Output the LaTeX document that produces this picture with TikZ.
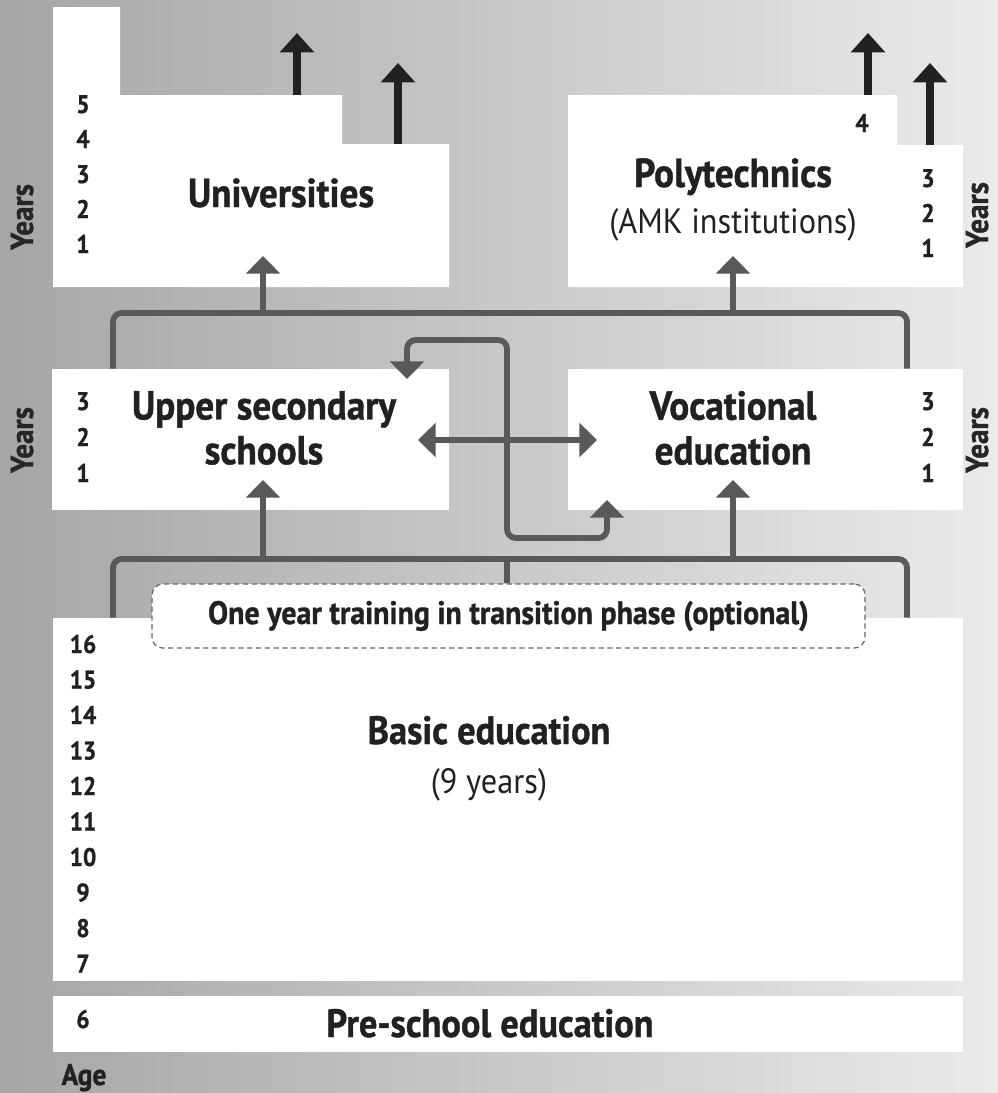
\documentclass[tikz,border=0pt]{standalone}
\usepackage{fontspec}
\setmainfont{PT Sans}[FakeStretch=0.92, BoldFeatures={FakeBold=1}]
\usetikzlibrary{arrows.meta, positioning}

\begin{document}
\begin{tikzpicture}[
    x=0.02cm, y=-0.02cm,
    box/.style={fill=white, inner sep=0pt},
    heading/.style={font=\bfseries\fontsize{23}{25.5}\selectfont, text=black!87, align=center, inner sep=0pt},
    subheading/.style={font=\fontsize{20}{24}\selectfont, text=black!87, inner sep=0pt},
    num/.style={font=\bfseries\fontsize{14.5}{16}\selectfont, text=black!87, inner sep=0pt, anchor=base},
    yearslabel/.style={font=\bfseries\fontsize{18}{20}\selectfont, text=black!85, inner sep=0pt, rotate=90, anchor=base},
    connector/.style={draw=black!65, line width=3.3pt},
    uptip/.style={-{Triangle[width=19pt, length=10pt]}},
    outarrow/.style={draw=black!87, line width=4pt, -{Triangle[width=19pt, length=11pt]}},
    optbox/.style={draw=black!60, dash pattern=on 3pt off 2pt, line width=0.7pt, fill=white,
        rounded corners=6pt, minimum width=14.26cm, minimum height=1.28cm,
        font=\bfseries\fontsize{18.5}{20}\selectfont, text=black!87}
]

% background
\useasboundingbox (0,0) rectangle (998,1093);
\shade[left color=black!35, middle color=black!18, right color=black!8] (0,0) rectangle (998,1093);

% --- Higher education ---
\fill[white] (53,7) -| (120,95) -| (342,144) -| (449,287) -| (53,7) -- cycle;
\fill[white] (568,95) -| (897,145) -| (963,287) -| (568,95) -- cycle;

\node[heading, anchor=base] (unitxt) at (281,207) {Universities};
\node[heading, anchor=base] (polytxt) at (733,187) {Polytechnics};
\node[subheading, anchor=base] (amk) at (733,233) {(AMK institutions)};

\foreach \n [count=\i] in {5,4,3,2,1}
    \node[num] (uni\n) at (83, 113+35*\i-35) {\n};
\node[num] (poly4) at (862,132) {4};
\foreach \n [count=\i] in {3,2,1}
    \node[num] (poly\n) at (928, 187+35*\i-35) {\n};

\node[yearslabel] (yuni) at (33,217) {Years};
\node[yearslabel] (ypoly) at (988,215) {Years};

% onward arrows
\coordinate (uniA) at (297,95);  \coordinate (uniA tip) at (297,33);
\coordinate (uniB) at (398,144); \coordinate (uniB tip) at (398,63);
\coordinate (polyA) at (868,95); \coordinate (polyA tip) at (868,33);
\coordinate (polyB) at (930,145); \coordinate (polyB tip) at (930,63);
\draw[outarrow] (uniA) -- (uniA tip);
\draw[outarrow] (uniB) -- (uniB tip);
\draw[outarrow] (polyA) -- (polyA tip);
\draw[outarrow] (polyB) -- (polyB tip);

% --- Upper secondary level ---
\node[box, minimum width=7.94cm, minimum height=2.82cm] (upper) at (250.5,439.5) {};
\node[box, minimum width=7.90cm, minimum height=2.82cm] (voc) at (765.5,439.5) {};

\node[heading] (uppertxt) at (264,428) {Upper secondary\\schools};
\node[heading] (voctxt) at (733,428) {Vocational\\education};

\foreach \n [count=\i] in {3,2,1} {
    \node[num] (upper\n) at (83, 410+36*\i-36) {\n};
    \node[num] (voc\n) at (928, 410+36*\i-36) {\n};
}
\node[yearslabel] (yupper) at (33,440) {Years};
\node[yearslabel] (yvoc) at (988,440) {Years};

% bracket up to higher education
\coordinate (topjoin uni) at (263,313);
\coordinate (topjoin poly) at (733,313);
\coordinate (uni tip) at (263,256);
\coordinate (poly tip) at (733,256);
\draw[connector, rounded corners=5pt] (upper.north -| 113,0) |- (topjoin poly) -| (voc.north -| 907,0);
\draw[connector, uptip] (topjoin uni) -- (uni tip);
\draw[connector, uptip] (topjoin poly) -- (poly tip);

% moving between the two tracks
\coordinate (upper in) at (407,379);
\coordinate (voc in) at (607,500);
\draw[connector, {Triangle[width=19pt, length=10pt]}-{Triangle[width=19pt, length=10pt]}]
    (418,440) coordinate (upper side) -- (597,440) coordinate (voc side);
\draw[connector, rounded corners=5pt, {Triangle[width=19pt, length=10pt]}-{Triangle[width=19pt, length=10pt]}]
    (upper in) |- (507,340) |- (607,538) -- (voc in);

% --- Basic education ---
\node[box, minimum width=18.2cm, minimum height=7.26cm] (basic) at (508,799.5) {};
\node[box, minimum width=18.2cm, minimum height=1.12cm] (pre) at (508,1024) {};

% bracket up to upper secondary level
\coordinate (lowjoin upper) at (263,559);
\coordinate (lowjoin voc) at (733,559);
\coordinate (lowjoin opt) at (507,559);
\draw[connector, rounded corners=5pt] (basic.north -| 113,0) |- (lowjoin voc) -| (basic.north -| 907,0);
\draw[connector, uptip] (lowjoin upper) -- (263,480) coordinate (upper tip);
\draw[connector, uptip] (lowjoin voc) -- (733,480) coordinate (voc tip);

\node[optbox] (opt) at (508.5,616) {One year training in transition phase (optional)};
\draw[connector] (lowjoin opt) -- (opt.north -| lowjoin opt);

\node[heading, anchor=base, font=\bfseries\fontsize{22.5}{26}\selectfont] (basictxt) at (489,744) {Basic education};
\node[subheading, anchor=base] (nine) at (489,793) {(9 years)};
\node[heading, anchor=base, font=\bfseries\fontsize{22.5}{26}\selectfont] (pretxt) at (490,1037) {Pre-school education};

\foreach \a in {16,15,...,7}
    \node[num] (age\a) at (83, 653+35.5*16-35.5*\a) {\a};
\node[num] (age6) at (83,1028) {6};
\node[num, font=\bfseries\fontsize{17}{19}\selectfont] (agelabel) at (84,1085) {Age};

\end{tikzpicture}
\end{document}
